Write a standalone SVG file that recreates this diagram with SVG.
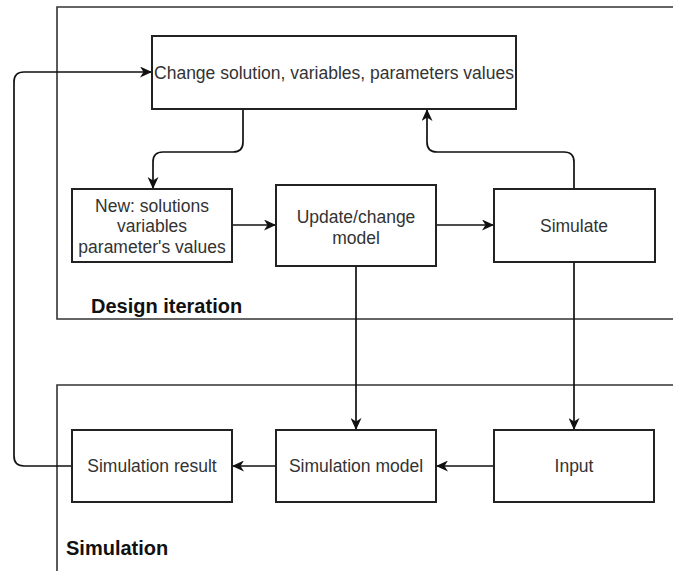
<svg xmlns="http://www.w3.org/2000/svg" width="673" height="571" viewBox="0 0 673 571">
<defs>
<style>
.box{fill:#fff;stroke:#222;stroke-width:2}
.cont{fill:none;stroke:#333;stroke-width:1.6}
.conn{fill:none;stroke:#111;stroke-width:1.7}
.t{font-family:"Liberation Sans",Arial,sans-serif;font-size:17.5px;fill:#333;text-anchor:middle}
.lbl{font-family:"Liberation Sans",Arial,sans-serif;font-size:20px;font-weight:bold;fill:#111}
</style>
<marker id="arr" markerWidth="13" markerHeight="11" refX="11" refY="5.5" orient="auto" markerUnits="userSpaceOnUse">
<path d="M0,0 L12,5.5 L0,11 L3.5,5.5 Z" fill="#111"/>
</marker>
</defs>
<rect width="673" height="571" fill="#fff"/>
<g id="design-iteration">
<path class="cont" d="M680,7 H57 V319 H680"/>
<text class="lbl" x="91" y="313">Design iteration</text>
</g>
<g id="simulation">
<path class="cont" d="M680,385 H57 V580"/>
<text class="lbl" x="66" y="555">Simulation</text>
</g>
<g id="connectors">
<path class="conn" d="M72,466 H24 Q14,466 14,456 V82 Q14,72 24,72 H151" marker-end="url(#arr)"/>
<path class="conn" d="M243,109 V142 Q243,152 233,152 H163 Q153,152 153,162 V188" marker-end="url(#arr)"/>
<path class="conn" d="M574,189 V162 Q574,152 564,152 H437 Q427,152 427,142 V110" marker-end="url(#arr)"/>
<path class="conn" d="M232,225 H275" marker-end="url(#arr)"/>
<path class="conn" d="M436,225 H493" marker-end="url(#arr)"/>
<path class="conn" d="M356,266 V429" marker-end="url(#arr)"/>
<path class="conn" d="M574,262 V429" marker-end="url(#arr)"/>
<path class="conn" d="M494,466 H437" marker-end="url(#arr)"/>
<path class="conn" d="M276,466 H233" marker-end="url(#arr)"/>
</g>
<g id="change">
<rect class="box" x="152" y="36" width="364" height="73"/>
<text class="t" x="334" y="79">Change solution, variables, parameters values</text>
</g>
<g id="new">
<rect class="box" x="72" y="189" width="160" height="73"/>
<text class="t" x="152" y="212">New: solutions</text>
<text class="t" x="152" y="232">variables</text>
<text class="t" x="152" y="253">parameter's values</text>
</g>
<g id="update">
<rect class="box" x="276" y="185" width="160" height="81"/>
<text class="t" x="356" y="223">Update/change</text>
<text class="t" x="356" y="244">model</text>
</g>
<g id="simulate">
<rect class="box" x="494" y="189" width="161" height="73"/>
<text class="t" x="574" y="232">Simulate</text>
</g>
<g id="sim-result">
<rect class="box" x="72" y="430" width="160" height="72"/>
<text class="t" x="152" y="472">Simulation result</text>
</g>
<g id="sim-model">
<rect class="box" x="276" y="430" width="160" height="72"/>
<text class="t" x="356" y="472">Simulation model</text>
</g>
<g id="input">
<rect class="box" x="494" y="430" width="160" height="72"/>
<text class="t" x="574" y="472">Input</text>
</g>
</svg>
